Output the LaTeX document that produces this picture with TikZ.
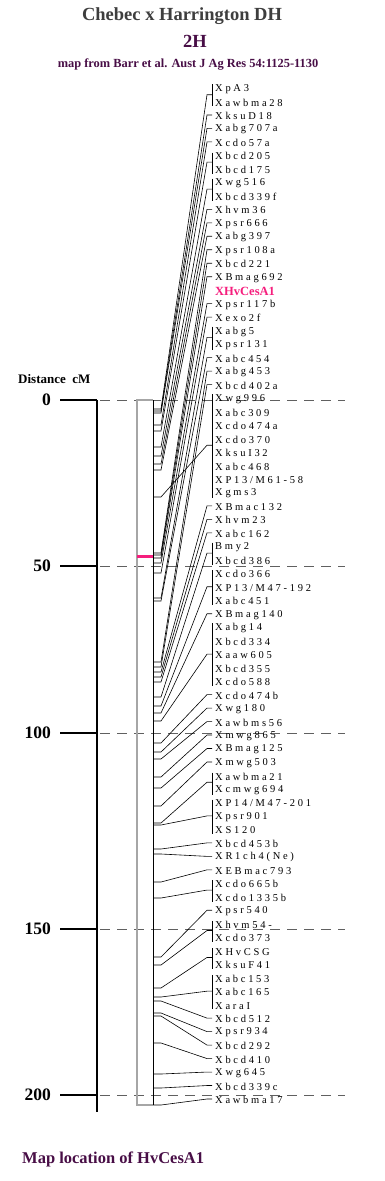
\documentclass[tikz,border=0pt]{standalone}
\usepackage{fontspec}
\usetikzlibrary{calc}
\setmainfont{Liberation Serif}
\newfontfamily\mkfont[LetterSpace=26]{Liberation Serif}
\definecolor{titlegrey}{RGB}{62,62,62}
\definecolor{mapplum}{RGB}{72,14,70}
\definecolor{cesapink}{RGB}{245,30,125}
\begin{document}
\begin{tikzpicture}[x=1pt,y=-1pt,
 mk/.style={anchor=west,inner sep=0pt,font=\mkfont\fontsize{10.5}{10.5}\selectfont},
 lab16/.style={font=\bfseries\fontsize{12.5}{12.5}\selectfont,text=cesapink},
 hd/.style={inner sep=0pt,font=\bfseries\fontsize{18.5}{18.5}\selectfont},
 sc/.style={anchor=east,inner sep=0pt,font=\bfseries\fontsize{17.5}{17.5}\selectfont},
 cmline/.style={gray!75!black,line width=0.8pt,dash pattern=on 10pt off 7pt},
 cn/.style={line width=0.6pt}]
\useasboundingbox (0,0) rectangle (384,1181);
\node[hd,text=titlegrey] (ttl) at (182,16) {Chebec x Harrington DH};
\node[hd,text=mapplum] (chr) at (195,41) {2H};
\node[inner sep=0pt,text=mapplum,font=\bfseries\fontsize{12.4}{12.4}\selectfont] (src) at (188,65) {map from Barr et al. Aust J Ag Res 54:1125-1130};
\node[anchor=west,inner sep=0pt,font=\bfseries\fontsize{13}{13}\selectfont] (dist) at (18,379) {Distance\ \ cM};
\foreach \cm/\y in {0/400,50/566,100/733,150/929,200/1095}{
 \node[sc] (s\cm) at (51,\y) {\cm};
 \draw[cmline] (100,\y) -- (345,\y);
 \draw[line width=2.5pt] ([xshift=9pt]s\cm.east) -- (97,\y);
}
\draw[line width=2pt] (97,400) -- (97,1112);
\draw[gray!70,line width=1.3pt] (153,400) -- (137,400) -- (137,1105) -- (153,1105);
\draw[line width=0.8pt] (153,400) -- (153,1105);
\draw[cesapink,line width=3pt] (137,556) -- (153,556);
\foreach \name [count=\i] in {XpA3,Xawbma28,XksuD18,Xabg707a,Xcdo57a,Xbcd205,Xbcd175,Xwg516,Xbcd339f,Xhvm36,Xpsr666,Xabg397,Xpsr108a,Xbcd221,XBmag692,XHvCesA1,Xpsr117b,Xexo2f,Xabg5,Xpsr131,Xabc454,Xabg453,Xbcd402a,Xwg996,Xabc309,Xcdo474a,Xcdo370,XksuI32,Xabc468,XP13/M61-58,Xgms3,XBmac132,Xhvm23,Xabc162,Bmy2,Xbcd386,Xcdo366,XP13/M47-192,Xabc451,XBmag140,Xabg14,Xbcd334,Xaaw605,Xbcd355,Xcdo588,Xcdo474b,Xwg180,Xawbms56,Xmwg865,XBmag125,Xmwg503,Xawbma21,Xcmwg694,XP14/M47-201,Xpsr901,XS120,Xbcd453b,XR1ch4(Ne),XEBmac793,Xcdo665b,Xcdo1335b,Xpsr540,Xhvm54-,Xcdo373,XHvCSG,XksuF41,Xabc153,Xabc165,XaraI,Xbcd512,Xpsr934,Xbcd292,Xbcd410,Xwg645,Xbcd339c,Xawbma17}
 \node[mk,lab\i/.try] (m\i) at (215,{89+(\i-1)*13.48}) {\name};
\foreach \ly/\a/\b [count=\g] in {409/1/2,411/3/3,413/4/4,425/5/5,431/6/7,447/8/9,456/10/10,464/11/11,470/12/12,553/13/13,555/14/14,558/15/15,563/17/17,573/18/18,598/19/20,601/21/21,662/22/22,667/23/23,497/24/31,672/32/32,677/33/33,682/34/34,697/35/36,706/37/39,713/40/40,721/41/45,743/46/46,752/47/47,759/48/48,777/49/49,788/50/50,806/51/51,823/52/53,825/54/56,849/57/57,854/58/58,882/59/59,898/60/61,957/62/62,965/63/64,988/65/66,997/67/69,1001/70/70,1013/71/71,1016/72/72,1043/73/73,1074/74/74,1088/75/75,1105/76/76}{
 \coordinate (b\g) at (153,\ly);
 \coordinate (t\g) at ($(m\a.west)!0.5!(m\b.west)+(-8,-1)$);
 \draw[cn] (b\g) -- ++(8,0) -- (t\g) -- ++(5,0);
 \ifnum\a<\b \draw[cn] ([xshift=-3pt]m\a.north west) -- ([xshift=-3pt]m\b.south west); \fi
}
\node[anchor=west,inner sep=0pt,text=mapplum,font=\bfseries\fontsize{16.5}{16.5}\selectfont] (cap) at (22,1159) {Map location of HvCesA1};
\end{tikzpicture}
\end{document}
